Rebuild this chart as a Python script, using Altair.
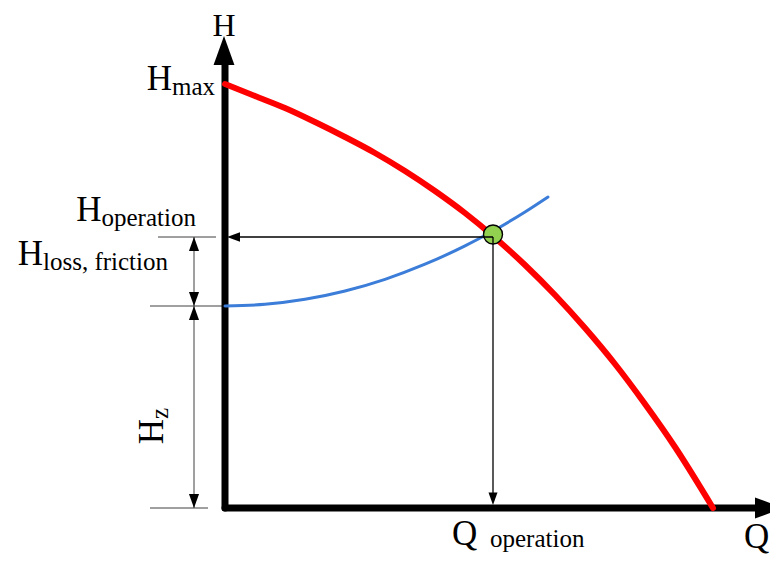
import altair as alt
import pandas as pd

# Diagram units: origin at the crossing of the Q and H axes
# pump curve (red)
pump_q = [0, 30, 60, 90, 120, 150, 180, 210, 240, 268, 300, 330, 360, 390, 420, 450, 488]
pump_h = [424, 412, 400, 386, 371, 355, 337, 317, 295, 272, 243, 213, 180, 144, 104, 61, 0]
# system curve (blue)
sys_q = [0, 40, 80, 120, 160, 200, 240, 268, 300, 323]
sys_h = [202, 203.7, 208.7, 217, 228.7, 243.8, 262.1, 277, 296, 311]
# operating point
op_q, op_h = 268, 273.5
guide_h = 271
h_z = 202
h_axis_end, q_axis_end = 443, 530
dim_q = -31

XS = alt.Scale(domain=[-217, 545], nice=False, zero=False)
YS = alt.Scale(domain=[-47, 500], nice=False, zero=False)
FONT = "Liberation Serif"


def enc(df_chart, q="q", h="h", q2=None, h2=None):
    e = dict(x=alt.X(f"{q}:Q", scale=XS, axis=None),
             y=alt.Y(f"{h}:Q", scale=YS, axis=None))
    if q2:
        e["x2"] = alt.X2(f"{q2}:Q")
    if h2:
        e["y2"] = alt.Y2(f"{h2}:Q")
    return df_chart.encode(**e)


pump = pd.DataFrame({"q": pump_q, "h": pump_h})
system = pd.DataFrame({"q": sys_q, "h": sys_h})

axes = pd.DataFrame({"q": [0, 0], "q2": [0, q_axis_end], "h": [0, 0], "h2": [h_axis_end, 0]})
ticks = pd.DataFrame({"q": [-67, -75, -75], "q2": [-9, -3, -17], "h": [guide_h, h_z, 0]})
dims = pd.DataFrame({"q": [dim_q, dim_q], "h": [h_z, 0], "h2": [guide_h, h_z]})
guides = pd.DataFrame({"q": [op_q, op_q], "q2": [10, op_q], "h": [guide_h, guide_h], "h2": [guide_h, 10]})

layers = []
layers.append(enc(alt.Chart(ticks).mark_rule(color="#404040", strokeWidth=1), q2="q2"))
layers.append(enc(alt.Chart(dims).mark_rule(color="#404040", strokeWidth=1), h2="h2"))
layers.append(enc(alt.Chart(axes).mark_rule(color="black", strokeWidth=7, strokeCap="round"), q2="q2", h2="h2"))
layers.append(enc(alt.Chart(pump).mark_line(color="#ff0000", strokeWidth=6, strokeCap="round", interpolate="monotone")))
layers.append(enc(alt.Chart(system).mark_line(color="#3b7dd8", strokeWidth=3, strokeCap="round", interpolate="monotone")))
layers.append(enc(alt.Chart(pd.DataFrame({"q": [op_q], "h": [op_h]})).mark_point(
    shape="circle", size=360, filled=True, fill="#92d050", stroke="black", strokeWidth=1.4, opacity=1)))
layers.append(enc(alt.Chart(guides).mark_rule(color="black", strokeWidth=1.3), q2="q2", h2="h2"))

UP = "M0,-1L0.72,1L-0.72,1Z"
DOWN = "M0,1L0.72,-1L-0.72,-1Z"
RIGHT = "M1,0L-1,0.72L-1,-0.72Z"
LEFT = "M-1,0L1,0.72L1,-0.72Z"


def arrow(qs, hs, shape, size):
    return enc(alt.Chart(pd.DataFrame({"q": qs, "h": hs})).mark_point(
        shape=shape, size=size, filled=True, color="black", opacity=1, strokeWidth=0))


layers.append(arrow([-1], [457.5], UP, 841))
layers.append(arrow([544.5], [0], RIGHT, 841))
layers.append(arrow([8.5], [guide_h], LEFT, 169))
layers.append(arrow([op_q], [9.25], DOWN, 156))
layers.append(arrow([dim_q, dim_q], [guide_h - 7, 195], UP, 196))
layers.append(arrow([dim_q, dim_q], [209, 7], DOWN, 196))


def text(labels, qs, hs, size, align, angle=0):
    return enc(alt.Chart(pd.DataFrame({"q": qs, "h": hs, "t": labels})).mark_text(
        font=FONT, fontSize=size, align=align, baseline="alphabetic", angle=angle, color="black"
    )).encode(text="t:N")


layers.append(text(["H"], [-1], [472.5], 32, "center"))
layers.append(text(["H", "H", "H"], [-53, -123.5, -182], [418, 287, 243], 35, "right"))
layers.append(text(["max", "operation", "loss, friction", "operation"],
                   [-53, -123.5, -182, 265], [413.5, 282, 238, -39], 25, "left"))
layers.append(text(["Q", "Q"], [227, 519], [-37, -40], 35, "left"))
layers.append(text(["H"], [-62], [89], 35, "right", 270))
layers.append(text(["z"], [-57], [89], 25, "left", 270))

chart = alt.layer(*layers).properties(
    width=762, height=547, padding=0,
    autosize=alt.AutoSizeParams(type="none"),
).configure_view(stroke=None)

chart.save("out.html", embed_options={"renderer": "svg", "actions": False})
